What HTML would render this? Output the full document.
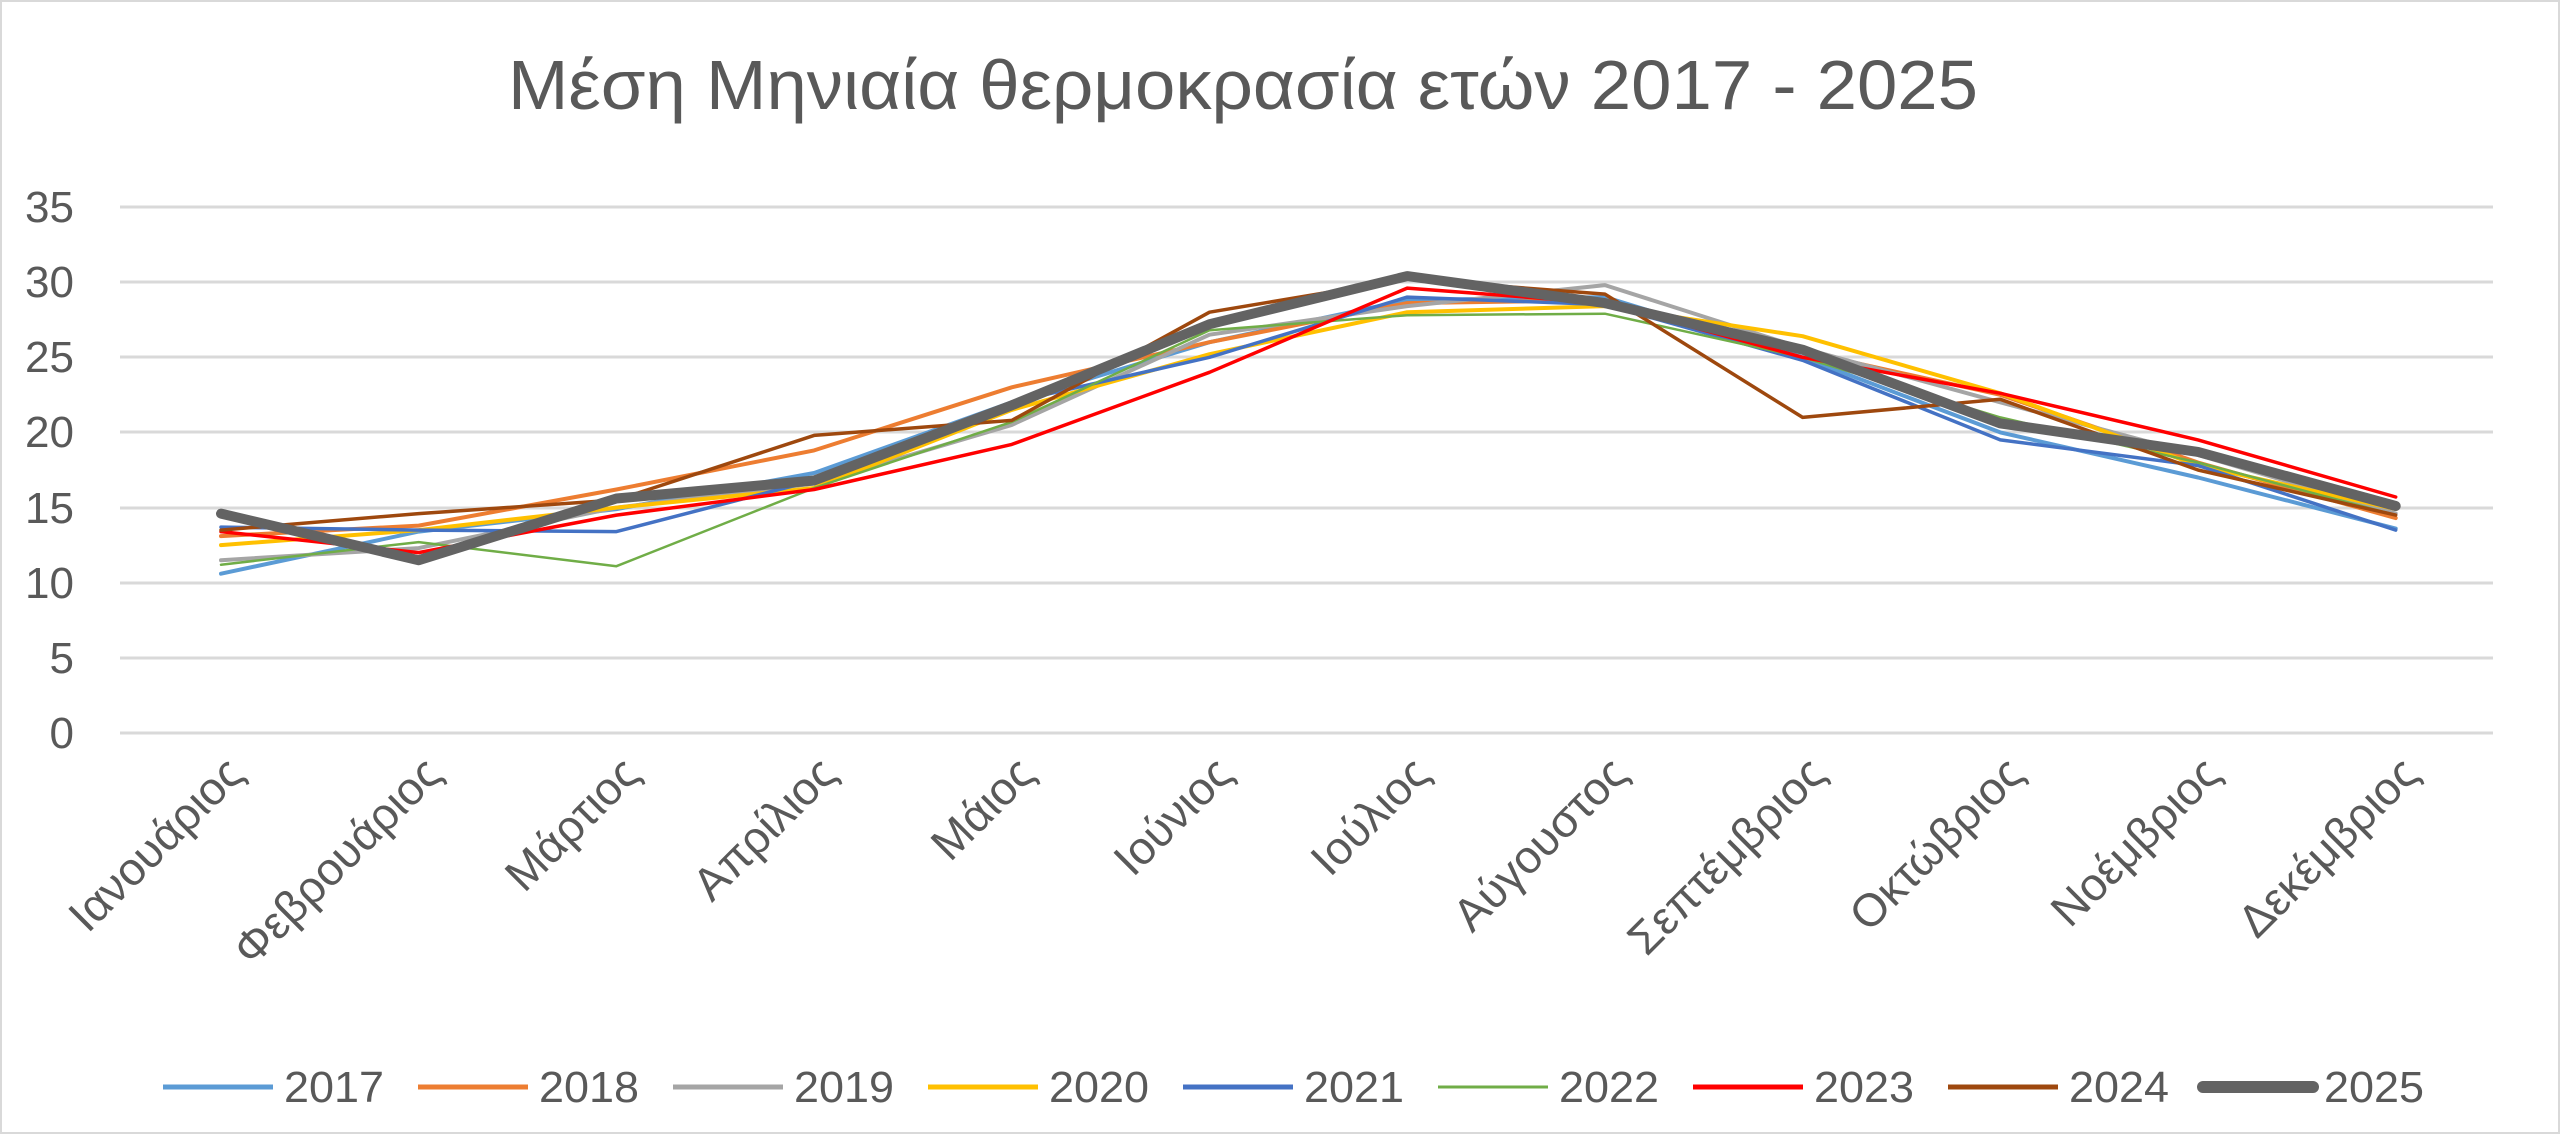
<!DOCTYPE html>
<html><head><meta charset="utf-8"><style>
html,body{margin:0;padding:0;background:#fff}
svg{display:block}
text{font-family:"Liberation Sans",sans-serif;fill:#595959}
</style></head><body>
<svg width="2560" height="1134" viewBox="0 0 2560 1134" xmlns="http://www.w3.org/2000/svg">
<rect x="1" y="1" width="2558" height="1132" fill="#fff" stroke="#d9d9d9" stroke-width="2"/>
<text x="1243" y="109" text-anchor="middle" font-size="70" textLength="1470" lengthAdjust="spacingAndGlyphs">Μέση Μηνιαία θερμοκρασία ετών 2017 - 2025</text>
<g stroke="#d9d9d9" stroke-width="3">
<line x1="120" x2="2493" y1="207" y2="207"/>
<line x1="120" x2="2493" y1="282" y2="282"/>
<line x1="120" x2="2493" y1="357" y2="357"/>
<line x1="120" x2="2493" y1="432" y2="432"/>
<line x1="120" x2="2493" y1="508" y2="508"/>
<line x1="120" x2="2493" y1="583" y2="583"/>
<line x1="120" x2="2493" y1="658" y2="658"/>
<line x1="120" x2="2493" y1="733" y2="733"/>
</g>
<g font-size="44" text-anchor="end">
<text x="74" y="222">35</text><text x="74" y="297">30</text><text x="74" y="372">25</text>
<text x="74" y="447">20</text><text x="74" y="523">15</text><text x="74" y="598">10</text>
<text x="74" y="673">5</text><text x="74" y="748">0</text>
</g>
<g font-size="46" text-anchor="end">
<text transform="translate(246,776) rotate(-45)">Ιανουάριος</text>
<text transform="translate(444,776) rotate(-45)">Φεβρουάριος</text>
<text transform="translate(642,776) rotate(-45)">Μάρτιος</text>
<text transform="translate(839,776) rotate(-45)">Απρίλιος</text>
<text transform="translate(1037,776) rotate(-45)">Μάιος</text>
<text transform="translate(1235,776) rotate(-45)">Ιούνιος</text>
<text transform="translate(1432,776) rotate(-45)">Ιούλιος</text>
<text transform="translate(1630,776) rotate(-45)">Αύγουστος</text>
<text transform="translate(1828,776) rotate(-45)">Σεπτέμβριος</text>
<text transform="translate(2026,776) rotate(-45)">Οκτώβριος</text>
<text transform="translate(2223,776) rotate(-45)">Νοέμβριος</text>
<text transform="translate(2421,776) rotate(-45)">Δεκέμβριος</text>
</g>
<g id="series" fill="none" stroke-linejoin="round" stroke-linecap="round"></g>
<g font-size="44">
<line x1="163" x2="273" y1="1087" y2="1087" stroke="#5b9bd5" stroke-width="5"/><text x="284" y="1102" textLength="100" lengthAdjust="spacingAndGlyphs">2017</text>
<line x1="418" x2="528" y1="1087" y2="1087" stroke="#ed7d31" stroke-width="5"/><text x="539" y="1102" textLength="100" lengthAdjust="spacingAndGlyphs">2018</text>
<line x1="673" x2="783" y1="1087" y2="1087" stroke="#a5a5a5" stroke-width="5"/><text x="794" y="1102" textLength="100" lengthAdjust="spacingAndGlyphs">2019</text>
<line x1="928" x2="1038" y1="1087" y2="1087" stroke="#ffc000" stroke-width="5"/><text x="1049" y="1102" textLength="100" lengthAdjust="spacingAndGlyphs">2020</text>
<line x1="1183" x2="1293" y1="1087" y2="1087" stroke="#4472c4" stroke-width="5"/><text x="1304" y="1102" textLength="100" lengthAdjust="spacingAndGlyphs">2021</text>
<line x1="1438" x2="1548" y1="1087" y2="1087" stroke="#70ad47" stroke-width="3"/><text x="1559" y="1102" textLength="100" lengthAdjust="spacingAndGlyphs">2022</text>
<line x1="1693" x2="1803" y1="1087" y2="1087" stroke="#ff0000" stroke-width="5"/><text x="1814" y="1102" textLength="100" lengthAdjust="spacingAndGlyphs">2023</text>
<line x1="1948" x2="2058" y1="1087" y2="1087" stroke="#9e480e" stroke-width="5"/><text x="2069" y="1102" textLength="100" lengthAdjust="spacingAndGlyphs">2024</text>
<line x1="2203" x2="2313" y1="1087" y2="1087" stroke="#636363" stroke-width="12" stroke-linecap="round"/><text x="2324" y="1102" textLength="100" lengthAdjust="spacingAndGlyphs">2025</text>
</g>
</svg>
<script>
var S=[
["#5b9bd5",4,[10.6,13.4,14.9,17.3,22.0,26.0,28.8,29.0,25.0,20.0,17.0,13.6]],
["#ed7d31",4,[13.1,13.8,16.2,18.8,23.0,26.0,28.6,28.8,25.4,22.5,18.0,14.3]],
["#a5a5a5",4,[11.5,12.3,15.0,16.6,20.5,26.5,28.4,29.8,25.6,22.0,18.5,14.6]],
["#ffc000",4,[12.5,13.5,15.0,16.3,21.5,25.2,28.0,28.4,26.4,22.6,17.8,14.9]],
["#4472c4",3.5,[13.7,13.5,13.4,16.8,22.0,25.0,29.0,28.5,24.8,19.5,17.8,13.5]],
["#70ad47",2.5,[11.2,12.7,11.1,16.3,20.7,26.8,27.8,27.9,25.0,21.0,18.0,14.5]],
["#ff0000",3.5,[13.4,12.0,14.5,16.2,19.2,24.0,29.6,28.6,25.0,22.6,19.5,15.7]],
["#9e480e",3.5,[13.5,14.6,15.5,19.8,20.8,28.0,30.2,29.2,21.0,22.2,17.5,14.5]],
["#636363",10,[14.6,11.5,15.6,16.8,21.8,27.2,30.4,28.6,25.5,20.6,18.7,15.1]]];
var g=document.getElementById('series'),h='';
S.forEach(function(s){var p=s[2].map(function(v,i){return (221+i*197.7).toFixed(1)+','+(733-v*15.03).toFixed(1)}).join(' ');
h+='<polyline points="'+p+'" stroke="'+s[0]+'" stroke-width="'+s[1]+'"/>';});
g.innerHTML=h;
</script>
</body></html>
